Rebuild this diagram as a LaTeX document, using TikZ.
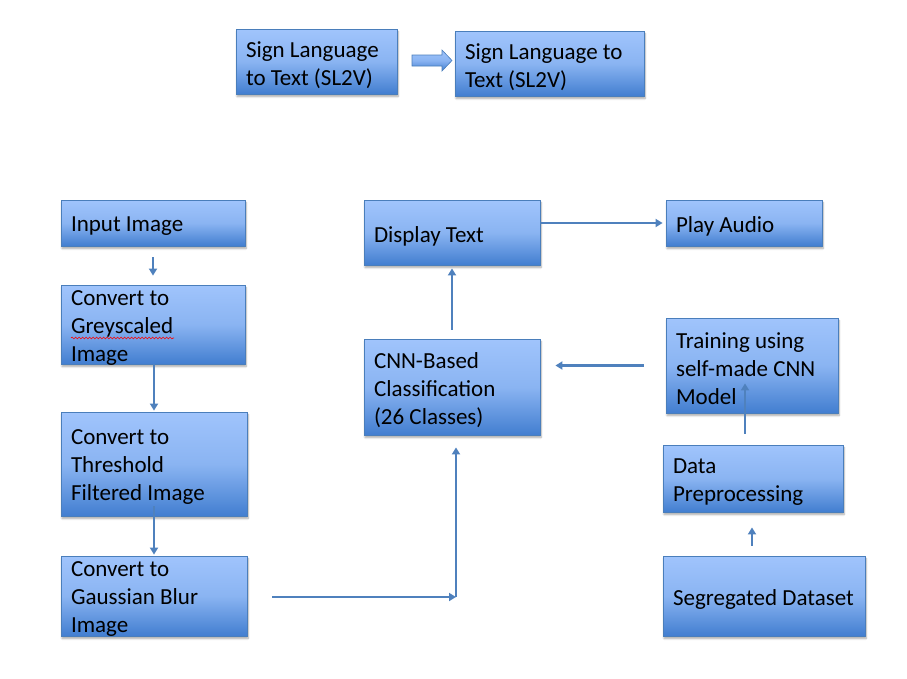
\documentclass[tikz,border=0pt]{standalone}
\usepackage{fontspec}
\setmainfont{Carlito}
\usetikzlibrary{arrows.meta,shadows.blur,decorations.pathmorphing,calc}
\definecolor{gtop}{RGB}{160,196,252}
\definecolor{gmid}{RGB}{138,180,242}
\definecolor{gbot}{RGB}{66,126,208}
\definecolor{bordc}{RGB}{74,126,187}
\definecolor{arrc}{RGB}{79,129,189}
\tikzset{
  box/.style={draw=bordc, line width=0.8pt, top color=gtop, bottom color=gbot, middle color=gmid,
    inner sep=0pt, anchor=center,
    blur shadow={shadow xshift=1pt, shadow yshift=-2.5pt, shadow blur steps=6, shadow opacity=35}},
  boxtext/.style={inner sep=0pt, align=flush left, anchor=center,
    font=\fontsize{23}{28}\selectfont},
  arr/.style={draw=arrc, line width=2.5pt, -{Triangle[length=7pt,width=8pt]}},
  blockarrow/.style={draw=bordc, line width=0.6pt, top color=gtop, bottom color=gbot, middle color=gmid}
}
\newcommand{\bx}[7]{% name, cx, cy, w, h, text width, text
  \node[box, minimum width=#4pt, minimum height=#5pt] (#1) at (#2,#3) {};
  \node[boxtext, text width=#6pt] (#1-t) at ([yshift=-3.5pt]#1.center) {#7};}
\begin{document}
\begin{tikzpicture}[x=1pt,y=-1pt]
\useasboundingbox (0,0) rectangle (907,678);
% boxes
\bx{top1}{316.5}{61.5}{161}{65}{141}{Sign Language\\to Text (SL2V)}
\bx{top2}{549.5}{63.5}{189}{65}{169}{Sign Language to\\Text (SL2V)}
\bx{input}{153}{223}{184}{46}{164}{Input Image}
\bx{grey}{153}{324.5}{184}{79}{164}{Convert to\\Greyscaled\\Image}
\bx{thresh}{154}{464}{186}{104}{166}{Convert to\\Threshold\\Filtered Image}
\bx{gauss}{154}{596}{186}{80}{166}{Convert to\\Gaussian Blur\\Image}
\bx{display}{452}{232.5}{176}{65}{156}{Display Text}
\bx{cnn}{452}{387}{176}{96}{156}{CNN-Based\\Classification\\(26 Classes)}
\bx{play}{744}{223}{156}{46}{136}{Play Audio}
\bx{train}{752}{365.5}{172}{95}{152}{Training using\\self-made CNN\\Model}
\bx{data}{753}{478.5}{180}{67}{160}{Data\\Preprocessing}
\bx{seg}{764}{596}{202}{80}{182}{Segregated Dataset}
% spell-check squiggle
\draw[red, line width=0.6pt, decorate, decoration={snake, segment length=3.5pt, amplitude=0.9pt}] (71,338) -- (174,338);
% block arrow
\path[blockarrow] (412,55) -- (442,55) -- (442,50) -- (452,60.5) -- (442,71) -- (442,66) -- (412,66) -- cycle;
% connectors
\coordinate (corner) at (456,597);
\coordinate (dt) at (745,0);
\coordinate (sd) at (752,0);
\draw[arr, shorten <=11pt, shorten >=9pt] (input.south) -- (input.south |- grey.north);
\draw[arr, shorten >=1pt] ([xshift=1pt]grey.south) -- ([xshift=1pt]grey.south |- thresh.north);
\draw[arr, shorten <=-10pt, shorten >=1pt] (thresh.south) -- (thresh.south |- gauss.north);
\draw[arr, shorten <=25pt] (gauss.east |- corner) -- (corner);
\draw[arr, shorten >=12pt] (corner) -- (corner |- cnn.south);
\draw[arr, shorten <=9pt, shorten >=3pt] (cnn.north) -- (display.south);
\draw[arr, shorten >=3pt] (display.east |- play.west) -- (play.west);
\draw[arr, shorten <=22pt, shorten >=15pt] (train.west) -- (train.west -| cnn.east);
\draw[arr, shorten <=11pt, shorten >=-30pt] (data.north -| dt) -- (train.south -| dt);
\draw[arr, shorten <=10pt, shorten >=15pt] (seg.north -| sd) -- (data.south -| sd);
\end{tikzpicture}
\end{document}
